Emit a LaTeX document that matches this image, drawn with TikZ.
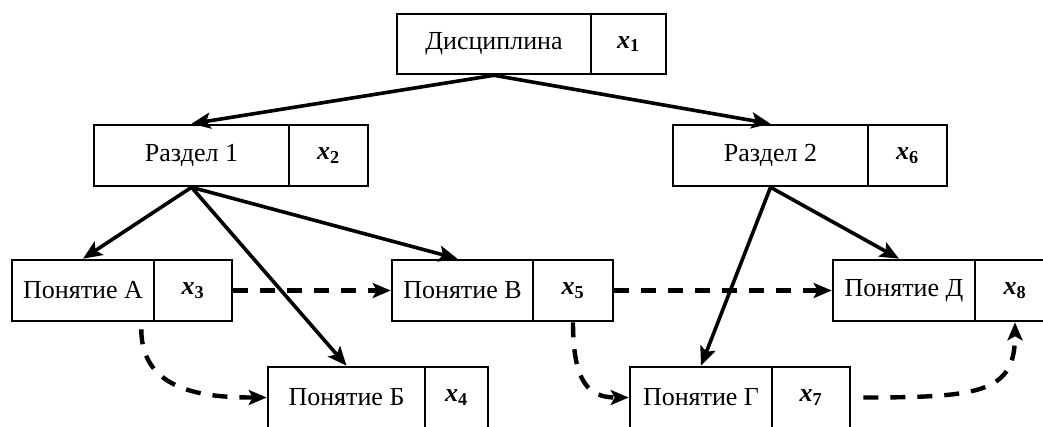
\documentclass[tikz,border=0pt]{standalone}
\usepackage{fontspec}
\setmainfont{LiberationSerif}[Extension=.ttf, UprightFont=*-Regular, BoldFont=*-Bold, ItalicFont=*-Italic, BoldItalicFont=*-BoldItalic]
\usetikzlibrary{arrows.meta}
\newcommand\xsub[1]{{\bfseries\itshape x}\textsubscript{\bfseries #1}}
\newcommand\twobox[8]{%
  \pgfmathsetmacro\tbW{#3-#2}\pgfmathsetmacro\tbS{#4-#3}\pgfmathsetmacro\tbH{#6-#5}%
  \pgfmathsetmacro\tbY{(#5+#6)/2}\pgfmathsetmacro\tbL{(#2+#3)/2}\pgfmathsetmacro\tbX{(#3+#4)/2}%
  \node[cell, minimum width=\tbW pt, minimum height=\tbH pt] (#1l) at (\tbL,\tbY) {#7};
  \node[cell, minimum width=\tbS pt, minimum height=\tbH pt] (#1x) at (\tbX,\tbY) {\xsub{#8}};
}
\begin{document}
\begin{tikzpicture}[x=1pt,y=-1pt,
  cell/.style={draw, line width=2.6pt, inner sep=0pt, font=\fontsize{26}{29}\selectfont, fill=white},
  arr/.style={line width=3.6pt, -{Stealth[length=19pt,width=16pt,inset=4pt]}},
  darr/.style={line width=4.4pt, dash pattern=on 15pt off 12pt, -{Stealth[length=18pt,width=15pt,inset=4pt]}}]
\useasboundingbox[fill=white] (0,0) rectangle (1043,426);
\twobox{d}{397}{591}{666}{14}{74}{Дисциплина}{1}
\twobox{ra}{94}{289}{368}{125}{186}{Раздел 1}{2}
\twobox{rb}{673}{868}{947}{125}{186}{Раздел 2}{6}
\twobox{pa}{12}{154}{232}{260}{321}{Понятие А}{3}
\twobox{pv}{392}{533}{613}{260}{321}{Понятие В}{5}
\twobox{pd}{833}{975}{1055}{260}{321}{Понятие Д}{8}
\twobox{pb}{268}{425}{488}{367}{428}{Понятие Б}{4}
\twobox{pg}{630}{772}{850}{367}{428}{Понятие Г}{7}
% solid arrows
\draw[arr] (dl.south) -- (ral.north);
\draw[arr] (dl.south) -- (rbl.north);
\draw[arr] (ral.south) -- (pal.north);
\draw[arr] (ral.south) -- (pbl.north);
\draw[arr] (ral.south) -- ([xshift=-5pt]pvl.north);
\draw[arr] (rbl.south) -- (pgl.north);
\draw[arr] (rbl.south) -- ([xshift=-5pt]pdl.north);
% dashed arrows
\draw[darr] (pax.east) -- (pvl.west);
\draw[darr] (pvx.east) -- (pdl.west);
\draw[darr] ([xshift=-14pt,yshift=-7pt]pal.south east) .. controls ([xshift=-14pt,yshift=-70pt]pal.south east) and ([xshift=-60pt]pbl.west) .. (pbl.west);
\draw[darr] (pvx.south) .. controls ([yshift=-60pt]pvx.south) and ([xshift=-40pt]pgl.west) .. (pgl.west);
\draw[darr] ([xshift=12pt]pgx.east) .. controls ([xshift=130pt]pgx.east) and ([yshift=-70pt]pdx.south) .. (pdx.south);
\end{tikzpicture}
\end{document}
